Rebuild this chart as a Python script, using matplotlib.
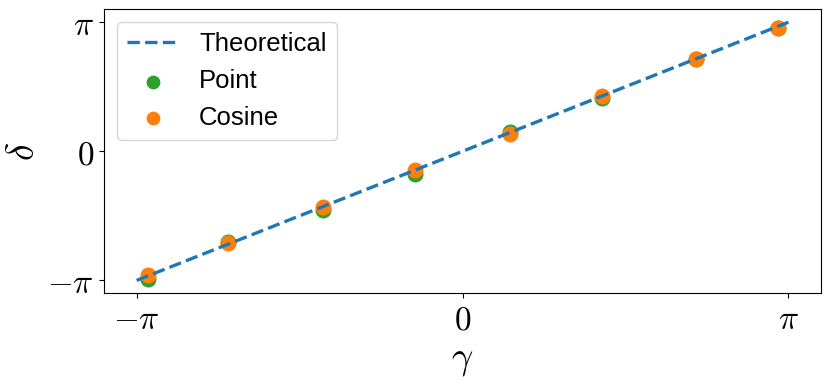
import numpy as np
import matplotlib
matplotlib.use("Agg")
import matplotlib.pyplot as plt

# Data (in units of pi)
gamma = np.array([-0.966, -0.719, -0.429, -0.145, 0.145, 0.428, 0.717, 0.969])
delta_point = np.array([-0.992, -0.705, -0.452, -0.176, 0.151, 0.416, 0.717, 0.957])
delta_cosine = np.array([-0.956, -0.711, -0.429, -0.143, 0.133, 0.429, 0.717, 0.957])
theory_x = np.array([-1.0, 1.0])
tick_vals = [-1, 0, 1]
tick_labels = [r'$-\pi$', r'$0$', r'$\pi$']

plt.rcParams['mathtext.fontset'] = 'cm'

fig = plt.figure(figsize=(8.31, 3.84), dpi=100)
ax = fig.add_axes([0.1252, 0.2362, 0.988 - 0.1252, 0.9758 - 0.2362])

sp = ax.scatter(gamma * np.pi, delta_point * np.pi, s=110, color='tab:green', label='Point', zorder=2)
sc = ax.scatter(gamma * np.pi, delta_cosine * np.pi, s=110, color='tab:orange', label='Cosine', zorder=2)
ln, = ax.plot(theory_x * np.pi, theory_x * np.pi, '--', lw=2.4, color='tab:blue', label='Theoretical', zorder=3)

ax.set_xticks(np.array(tick_vals) * np.pi)
ax.set_xticklabels(tick_labels)
ax.set_yticks(np.array(tick_vals) * np.pi)
ax.set_yticklabels(tick_labels)
ax.tick_params(labelsize=24)
ax.set_xlabel(r'$\gamma$', fontsize=27)
ax.set_ylabel(r'$\delta$', fontsize=27)

ax.legend(handles=[ln, sp, sc], loc='upper left', markerscale=0.85,
          prop={'family': 'Liberation Sans', 'size': 18.5})

fig.savefig('out.png', dpi=100)
